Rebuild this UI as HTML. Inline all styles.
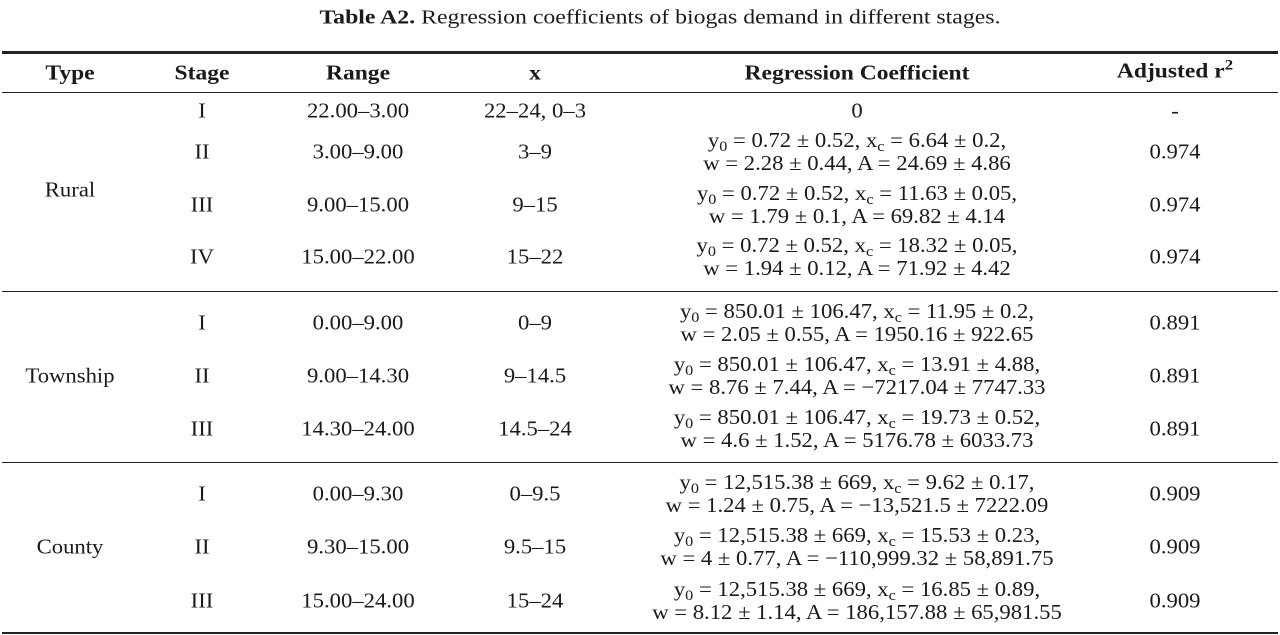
<!DOCTYPE html>
<html><head><meta charset="utf-8"><style>
body{margin:0;width:1280px;height:635px;background:#fff;position:relative;overflow:hidden;font-family:"Liberation Serif",serif;color:#1a1a1a;font-size:21px}
.t{position:absolute;white-space:nowrap;transform:translate(-50%,-50%) scaleX(1.08);text-align:center;line-height:23px}
.b{font-weight:bold;transform:translate(-50%,-50%) scaleX(1.12)}
.r{position:absolute;left:2px;width:1276px;background:#222}
sub{font-size:15px;vertical-align:-4px;line-height:0}
sup{font-size:15px;vertical-align:8px;line-height:0}
</style></head><body>
<div class="t" style="left:660px;top:18px;font-size:20px;transform:translate(-50%,-50%) scaleX(1.19)"><b>Table A2.</b> Regression coefficients of biogas demand in different stages.</div>
<div class="r" style="top:51px;height:3px"></div>
<div class="r" style="top:92px;height:1px"></div>
<div class="r" style="top:291px;height:1px"></div>
<div class="r" style="top:462px;height:1px"></div>
<div class="r" style="top:632px;height:2px"></div>

<div class="t b" style="left:70px;top:73px">Type</div>
<div class="t b" style="left:202px;top:73px">Stage</div>
<div class="t b" style="left:358px;top:73px">Range</div>
<div class="t b" style="left:535px;top:73px">x</div>
<div class="t b" style="left:857px;top:73px">Regression Coefficient</div>
<div class="t b" style="left:1175px;top:71px">Adjusted r<sup>2</sup></div>

<div class="t" style="left:70px;top:190px">Rural</div>
<div class="t" style="left:202px;top:111px">I</div><div class="t" style="left:358px;top:111px">22.00–3.00</div><div class="t" style="left:535px;top:111px">22–24, 0–3</div><div class="t" style="left:857px;top:111px">0</div><div class="t" style="left:1175px;top:111px">-</div>
<div class="t" style="left:202px;top:152px">II</div><div class="t" style="left:358px;top:152px">3.00–9.00</div><div class="t" style="left:535px;top:152px">3–9</div><div class="t" style="left:857px;top:152px">y<sub>0</sub> = 0.72 ± 0.52, x<sub>c</sub> = 6.64 ± 0.2,<br>w = 2.28 ± 0.44, A = 24.69 ± 4.86</div><div class="t" style="left:1175px;top:152px">0.974</div>
<div class="t" style="left:202px;top:205px">III</div><div class="t" style="left:358px;top:205px">9.00–15.00</div><div class="t" style="left:535px;top:205px">9–15</div><div class="t" style="left:857px;top:205px">y<sub>0</sub> = 0.72 ± 0.52, x<sub>c</sub> = 11.63 ± 0.05,<br>w = 1.79 ± 0.1, A = 69.82 ± 4.14</div><div class="t" style="left:1175px;top:205px">0.974</div>
<div class="t" style="left:202px;top:257px">IV</div><div class="t" style="left:358px;top:257px">15.00–22.00</div><div class="t" style="left:535px;top:257px">15–22</div><div class="t" style="left:857px;top:257px">y<sub>0</sub> = 0.72 ± 0.52, x<sub>c</sub> = 18.32 ± 0.05,<br>w = 1.94 ± 0.12, A = 71.92 ± 4.42</div><div class="t" style="left:1175px;top:257px">0.974</div>

<div class="t" style="left:70px;top:376px">Township</div>
<div class="t" style="left:202px;top:323px">I</div><div class="t" style="left:358px;top:323px">0.00–9.00</div><div class="t" style="left:535px;top:323px">0–9</div><div class="t" style="left:857px;top:323px">y<sub>0</sub> = 850.01 ± 106.47, x<sub>c</sub> = 11.95 ± 0.2,<br>w = 2.05 ± 0.55, A = 1950.16 ± 922.65</div><div class="t" style="left:1175px;top:323px">0.891</div>
<div class="t" style="left:202px;top:376px">II</div><div class="t" style="left:358px;top:376px">9.00–14.30</div><div class="t" style="left:535px;top:376px">9–14.5</div><div class="t" style="left:857px;top:376px">y<sub>0</sub> = 850.01 ± 106.47, x<sub>c</sub> = 13.91 ± 4.88,<br>w = 8.76 ± 7.44, A = −7217.04 ± 7747.33</div><div class="t" style="left:1175px;top:376px">0.891</div>
<div class="t" style="left:202px;top:429px">III</div><div class="t" style="left:358px;top:429px">14.30–24.00</div><div class="t" style="left:535px;top:429px">14.5–24</div><div class="t" style="left:857px;top:429px">y<sub>0</sub> = 850.01 ± 106.47, x<sub>c</sub> = 19.73 ± 0.52,<br>w = 4.6 ± 1.52, A = 5176.78 ± 6033.73</div><div class="t" style="left:1175px;top:429px">0.891</div>

<div class="t" style="left:70px;top:547px">County</div>
<div class="t" style="left:202px;top:494px">I</div><div class="t" style="left:358px;top:494px">0.00–9.30</div><div class="t" style="left:535px;top:494px">0–9.5</div><div class="t" style="left:857px;top:494px">y<sub>0</sub> = 12,515.38 ± 669, x<sub>c</sub> = 9.62 ± 0.17,<br>w = 1.24 ± 0.75, A = −13,521.5 ± 7222.09</div><div class="t" style="left:1175px;top:494px">0.909</div>
<div class="t" style="left:202px;top:547px">II</div><div class="t" style="left:358px;top:547px">9.30–15.00</div><div class="t" style="left:535px;top:547px">9.5–15</div><div class="t" style="left:857px;top:547px">y<sub>0</sub> = 12,515.38 ± 669, x<sub>c</sub> = 15.53 ± 0.23,<br>w = 4 ± 0.77, A = −110,999.32 ± 58,891.75</div><div class="t" style="left:1175px;top:547px">0.909</div>
<div class="t" style="left:202px;top:601px">III</div><div class="t" style="left:358px;top:601px">15.00–24.00</div><div class="t" style="left:535px;top:601px">15–24</div><div class="t" style="left:857px;top:601px">y<sub>0</sub> = 12,515.38 ± 669, x<sub>c</sub> = 16.85 ± 0.89,<br>w = 8.12 ± 1.14, A = 186,157.88 ± 65,981.55</div><div class="t" style="left:1175px;top:601px">0.909</div>
</body></html>
